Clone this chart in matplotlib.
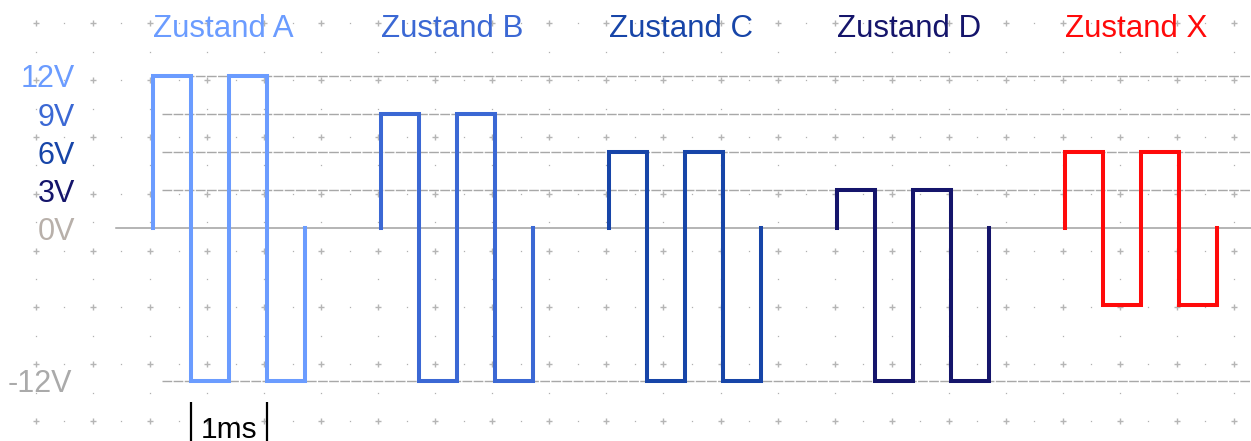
import matplotlib
matplotlib.use("Agg")
import matplotlib.pyplot as plt
import numpy as np

# ---- data ----
state_names = ["Zustand A", "Zustand B", "Zustand C", "Zustand D", "Zustand X"]
state_start_ms = [0, 3, 6, 9, 12]
high_levels = [12, 9, 6, 3, 6]
low_levels = [-12, -12, -12, -12, -6]
state_colors = ["#6b9cff", "#3b68d4", "#1745a8", "#15156b", "#ff0a0a"]
half_period_ms = 0.5
pulses = 2

level_values = [12, 9, 6, 3, 0, -12]
level_labels = ["12V", "9V", "6V", "3V", "0V", "-12V"]
level_colors = ["#6b9cff", "#3b68d4", "#1745a8", "#15156b", "#b8b0aa", "#aaaaaa"]

scale_bar_ms = (0.5, 1.5)
scale_bar_label = "1ms"

# ---- figure ----
W, H = 1251, 441
fig = plt.figure(figsize=(W / 100, H / 100), dpi=100)
plt.rcParams['font.family'] = ['Liberation Sans', 'DejaVu Sans']

# background dot grid (pixel coordinates, decoration)
bg = fig.add_axes([0, 0, 1, 1])
bg.set_xlim(0, W)
bg.set_ylim(H, 0)
bg.axis("off")
mx0, msx = 150.0, 57.05
my0, msy = 23.4, 56.8
majx = np.array([mx0 + msx * k for k in range(-2, 20)])
majy = np.array([my0 + msy * k for k in range(0, 8)])
MX, MY = np.meshgrid(majx, majy)
bg.plot(MX.ravel(), MY.ravel(), ls="none", marker="+", ms=4.5, mew=1.0, color="#b5b5b5")
midx = majx[:-1] + msx / 2
midy = majy[:-1] + msy / 2
A1, B1 = np.meshgrid(midx, majy)
A2, B2 = np.meshgrid(majx, midy)
bg.plot(np.r_[A1.ravel(), A2.ravel()], np.r_[B1.ravel(), B2.ravel()], ls="none",
        marker="s", ms=0.9, mew=0, color="#b0b0b0")

# data axes: time in ms, voltage in V
ax = fig.add_axes([0, 0, 1, 1])
ax.patch.set_alpha(0)
px_per_ms = 76.0
px_per_v = 12.7
x0_px, y0_px = 153.3, 228.3
ax.set_xlim(-x0_px / px_per_ms, (W - x0_px) / px_per_ms)
ax.set_ylim(-(H - y0_px) / px_per_v, y0_px / px_per_v)
ax.axis("off")

xmax = (W - x0_px) / px_per_ms
# reference lines
for v in level_values:
    if v == 0:
        ax.plot([-0.49, xmax], [0, 0], color="#a0a0a0", lw=1.1, zorder=2)
    else:
        ax.plot([0.12, xmax], [v, v], color="#a8a8a8", lw=1.0,
                ls=(0, (7, 1.0)), zorder=2)

# waveforms
for name, t0, hi, lo, col in zip(state_names, state_start_ms, high_levels,
                                  low_levels, state_colors):
    ts, vs = [t0], [0]
    seq = [hi, lo] * pulses
    t = t0
    for lvl in seq:
        ts += [t, t + half_period_ms]
        vs += [lvl, lvl]
        t += half_period_ms
    ts.append(t)
    vs.append(0)
    ax.plot(ts, vs, color=col, lw=2.9, solid_joinstyle="miter", zorder=3)
    ax.text(t0, (y0_px - 37) / px_per_v, name, color=col, fontsize=22.5,
            ha="left", va="baseline")

# level labels
for v, lab, col in zip(level_values, level_labels, level_colors):
    xr = (75 - x0_px) / px_per_ms if v != -12 else (72 - x0_px) / px_per_ms
    ax.text(xr, v, lab, color=col, fontsize=22, ha="right", va="center_baseline")

# scale bar
ybot = -(H - y0_px) / px_per_v
ytop = (y0_px - 402) / px_per_v
ax.vlines(list(scale_bar_ms), ybot, ytop, color="black", lw=1.6, zorder=3)
ax.text(sum(scale_bar_ms) / 2, (y0_px - 437.5) / px_per_v, scale_bar_label,
        color="black", fontsize=21.5, ha="center", va="baseline")

fig.savefig("out.png", dpi=100)
